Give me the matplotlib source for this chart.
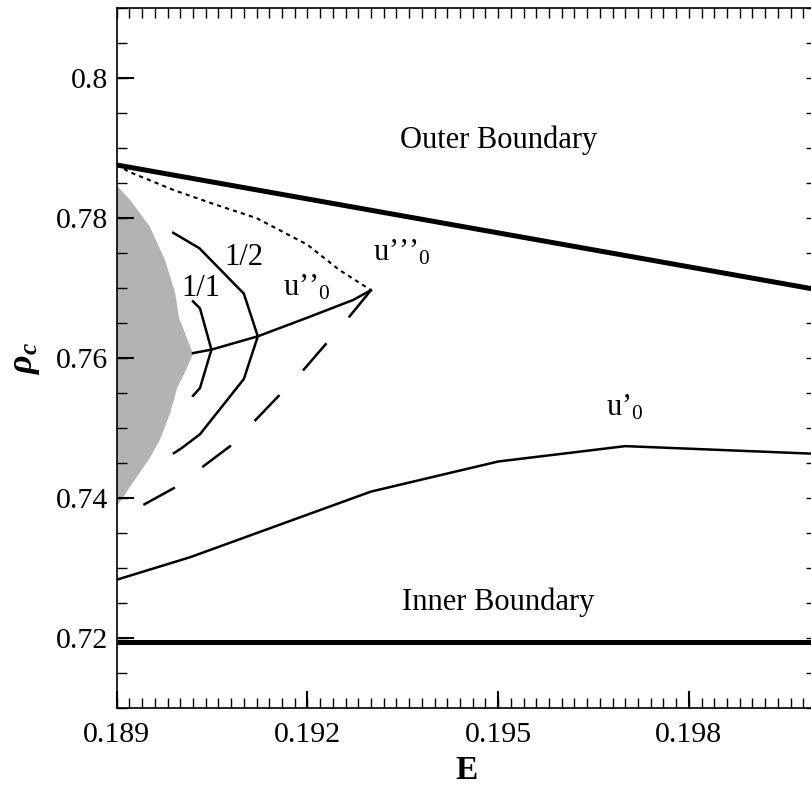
import matplotlib
matplotlib.use('Agg')
import matplotlib.pyplot as plt
from matplotlib.ticker import FixedLocator, FixedFormatter, MultipleLocator

plt.rcParams['font.family'] = ['Liberation Serif', 'DejaVu Serif']
plt.rcParams['mathtext.fontset'] = 'custom'
plt.rcParams['mathtext.rm'] = 'Liberation Serif'
plt.rcParams['mathtext.it'] = 'Liberation Serif:italic:bold'
plt.rcParams['mathtext.bf'] = 'Liberation Serif:bold'

# границы области
outer_E = [0.189, 0.200]
outer_rho = [0.7876, 0.7698]
inner_E = [0.189, 0.200]
inner_rho = [0.7194, 0.7194]

# серая область
grey_E = [0.189, 0.18921, 0.18952, 0.18976, 0.18992, 0.18998, 0.19003, 0.19020,
          0.19007, 0.18995, 0.18984, 0.18968, 0.18952, 0.18937, 0.18921, 0.189]
grey_rho = [0.7847, 0.7826, 0.7788, 0.7740, 0.7693, 0.7657, 0.7646, 0.7606,
            0.7579, 0.7557, 0.7521, 0.7483, 0.7457, 0.7437, 0.7416, 0.7387]

# кривые
u3_E = [0.189, 0.1892, 0.1899, 0.1905, 0.1912, 0.1920, 0.1925, 0.1930]
u3_rho = [0.7876, 0.7866, 0.7840, 0.7821, 0.7800, 0.7762, 0.7726, 0.7697]

u2_E = [0.19020, 0.19049, 0.19122, 0.19198, 0.19272, 0.19300]
u2_rho = [0.7607, 0.7612, 0.7631, 0.7657, 0.7683, 0.7697]

dash_E = [0.18942, 0.18992, 0.19080, 0.19192, 0.19265, 0.19300]
dash_rho = [0.7390, 0.7415, 0.7475, 0.7581, 0.7658, 0.7697]

r11_E = [0.19020, 0.19031, 0.19049, 0.19031, 0.19020]
r11_rho = [0.7681, 0.7671, 0.7612, 0.7557, 0.7546]

r12_E = [0.18989, 0.19030, 0.19100, 0.19122, 0.19100, 0.19031, 0.19002, 0.18990]
r12_rho = [0.7779, 0.7757, 0.7692, 0.7631, 0.7570, 0.7491, 0.7471, 0.7464]

u1_E = [0.189, 0.19015, 0.1930, 0.1950, 0.1970, 0.2000]
u1_rho = [0.7283, 0.7315, 0.7409, 0.7452, 0.7474, 0.7463]

xticks = [0.189, 0.192, 0.195, 0.198]
xlabels = ['0.189', '0.192', '0.195', '0.198']
yticks = [0.72, 0.74, 0.76, 0.78, 0.80]
ylabels = ['0.72', '0.74', '0.76', '0.78', '0.8']

fig = plt.figure(figsize=(8.11, 7.94), dpi=100)
ax = fig.add_axes([116.7 / 811, 86.3 / 794, (816 - 116.7) / 811, 699.4 / 794])

ax.fill(grey_E, grey_rho, color='#b3b3b3', lw=0, zorder=1)
ax.plot(outer_E, outer_rho, color='black', lw=3.6, solid_capstyle='butt', zorder=3)
ax.plot(inner_E, inner_rho, color='black', lw=3.6, solid_capstyle='butt', zorder=3)
ax.plot(u3_E, u3_rho, color='black', lw=1.5, dashes=(2, 2), zorder=3)
ax.plot(u2_E, u2_rho, color='black', lw=1.8, zorder=3)
ax.plot(dash_E, dash_rho, color='black', lw=1.8, dashes=(14.4, 13.6), zorder=3)
ax.plot(r11_E, r11_rho, color='black', lw=1.8, zorder=3)
ax.plot(r12_E, r12_rho, color='black', lw=1.8, zorder=3)
ax.plot(u1_E, u1_rho, color='black', lw=1.8, zorder=3)

fs = 22
ax.text(0.195, 0.7900, 'Outer Boundary', ha='center', va='baseline', fontsize=fs)
ax.text(0.195, 0.7240, 'Inner Boundary', ha='center', va='baseline', fontsize=fs)
ax.text(0.19070, 0.7733, '1/2', ha='left', va='baseline', fontsize=fs)
ax.text(0.19002, 0.7688, '1/1', ha='left', va='baseline', fontsize=fs)
ax.text(0.19161, 0.7690, 'u\u2019\u2019$_0$', ha='left', va='baseline', fontsize=fs)
ax.text(0.19303, 0.7740, 'u\u2019\u2019\u2019$_0$', ha='left', va='baseline', fontsize=fs)
ax.text(0.19670, 0.7518, 'u\u2019$_0$', ha='left', va='baseline', fontsize=fs)

ax.set_xlim(0.189, 0.200)
ax.set_ylim(0.71, 0.81)

ax.xaxis.set_major_locator(FixedLocator(xticks))
ax.xaxis.set_major_formatter(FixedFormatter(xlabels))
ax.yaxis.set_major_locator(FixedLocator(yticks))
ax.yaxis.set_major_formatter(FixedFormatter(ylabels))
ax.xaxis.set_minor_locator(MultipleLocator(0.0002))
ax.yaxis.set_minor_locator(MultipleLocator(0.005))
ax.xaxis.remove_overlapping_locs = False
ax.yaxis.remove_overlapping_locs = False

ax.tick_params(which='major', direction='in', length=12, width=1.5,
               top=False, right=False, labelsize=21.5, pad=6)
ax.tick_params(axis='x', which='major', pad=10)
ax.tick_params(which='minor', direction='in', length=7, width=1.0,
               top=True, right=True, bottom=True, left=True)
for s in ax.spines.values():
    s.set_linewidth(1.2)

ax.set_xlabel('E', fontsize=24, fontweight='bold', labelpad=5)
ax.set_ylabel(r'$\rho_c$', fontsize=26, labelpad=10)

fig.savefig('out.png', dpi=100)
